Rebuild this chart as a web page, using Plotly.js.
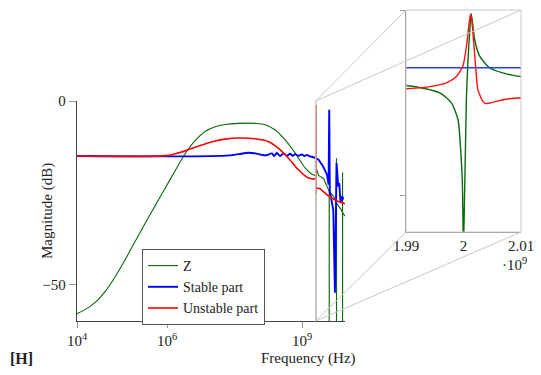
<!DOCTYPE html>
<html>
<head>
<meta charset="utf-8">
<script src="https://cdn.plot.ly/plotly-3.0.1.min.js"></script>
<style>html,body{margin:0;padding:0;background:#fff}</style>
</head>
<body>
<div id="plot" style="width:541px;height:375px"></div>
<script>
// Values (frequency in Hz, magnitude in dB)
let zFreq = [1e4, 1.51e4, 2.51e4, 4.19e4, 6.98e4, 1.17e5, 1.95e5, 3.24e5, 5.41e5, 9.04e5, 1.51e6, 2.51e6, 4.19e6, 6.98e6, 1.17e7, 1.95e7, 3.85e7, 9.04e7, 1.51e8, 2.51e8, 4.19e8, 6.98e8, 1.17e9, 1.64e9,
    1.99e9, 1.99588e9, 1.9979e9, 1.99904e9, 1.99951e9, 1.9998e9, 2.0e9, 2.0005e9, 2.00107e9, 2.00136e9, 2.00193e9, 2.00279e9, 2.00452e9, 2.00682e9, 2.01e9,
    2.3e9, 3.0e9, 3.97e9, 3.98e9, 3.99e9, 5.0e9, 5.76e9, 5.77e9, 5.78e9, 5.79e9, 7.0e9, 7.86e9, 7.87e9, 7.88e9, 7.89e9, 8.9e9];
let zMag = [-58.0, -56.9, -55.0, -52.0, -48.0, -43.3, -38.3, -33.4, -28.6, -23.8, -19.0, -14.4, -10.8, -8.3, -7.0, -6.4, -6.1, -6.1, -6.5, -7.9, -10.6, -14.2, -18.3, -20.0,
    -20.4, -22.4, -25.1, -29.6, -37.8, -46.5, -65, -24.2, -6.1, -1.1, -7.9, -12.4, -15.6, -17.0, -18.0,
    -20.3, -21.2, -24.7, -65, -24.8, -26.0, -27.8, -15.6, -65, -27.9, -29.3, -30.3, -19.5, -65, -30.4, -31.4];

let stableFreq = [1e4, 2.0e7, 3.85e7, 6.4e7, 9.04e7, 1.27e8, 1.64e8, 2.12e8, 2.39e8, 2.74e8, 3.24e8, 3.85e8, 4.57e8, 5.41e8, 6.15e8, 6.98e8, 8.28e8, 9.84e8, 1.11e9, 1.27e9, 1.43e9, 1.64e9,
    1.99e9, 2.0e9, 2.01e9, 2.31e9, 2.9e9, 3.55e9, 3.85e9, 3.98e9, 4.1e9, 4.89e9, 5.33e9, 5.78e9, 6.31e9, 6.64e9, 7.1e9, 7.74e9, 8.15e9];
let stableMag = [-15.0, -14.9, -14.5, -14.1, -14.3, -14.7, -14.8, -14.3, -15.0, -14.2, -15.0, -14.3, -14.95, -14.4, -14.95, -14.5, -14.95, -14.6, -15.0, -14.7, -15.05, -15.2,
    -15.6, -15.6, -15.6, -16.0, -17.8, -20.1, -22.8, -2.4, -24.6, -29.6, -52.3, -16.9, -23.3, -22.4, -27.8, -26.0, -26.9];

let unstableFreq = [1e4, 9.04e5, 1.51e6, 2.51e6, 4.19e6, 6.98e6, 1.17e7, 1.95e7, 3.85e7, 9.04e7, 1.79e8, 2.98e8, 4.97e8, 8.28e8, 1.38e9,
    1.99e9, 1.99415e9, 1.99704e9, 1.99877e9, 1.99991e9, 2.0006e9, 2.00107e9, 2.00129e9, 2.00164e9, 2.0021e9, 2.0025e9, 2.00337e9, 2.00395e9, 2.00568e9, 2.00798e9, 2.01e9,
    2.51e9, 3.5e9, 5.0e9, 6.5e9, 8.9e9];
let unstableMag = [-15.0, -14.9, -14.4, -13.6, -12.6, -11.7, -10.9, -10.4, -10.1, -10.3, -11.1, -12.9, -15.6, -18.8, -21.0,
    -21.3, -20.7, -19.7, -18.0, -15.1, -8.8, -2.4, -1.1, -6.1, -15.1, -21.5, -24.7, -25.3, -24.7, -24.0, -23.7,
    -23.9, -25.5, -26.8, -27.5, -28.0];

let mainTicks = [1e4, 1e6, 1e9];
let mainTickText = ["10<sup>4</sup>", "10<sup>6</sup>", "10<sup>9</sup>"];
let magTicks = [0, -50];
let magTickText = ["0", "\u221250"];
let zoomTicks = [1.99e9, 2.0e9, 2.01e9];
let zoomTickText = ["1.99", "2", "2.01"];

// Layout geometry
const W = 541, H = 375;
const serif = "Liberation Serif, Times New Roman, serif";
const mainDomX = [77 / W, 345 / W];
const mainDomY = [1 - 321 / H, 1 - 101 / H];
const insetDomX = [406 / W, 521 / W];
const insetDomY = [1 - 232 / H, 1 - 10 / H];
const mainRangeX = [4, 9.95];
const zoomRange = [1.99e9, 2.01e9];

function paperX(f) {
    let t = (Math.log10(f) - mainRangeX[0]) / (mainRangeX[1] - mainRangeX[0]);
    return mainDomX[0] + t * (mainDomX[1] - mainDomX[0]);
}

let series = [
    { name: "Z", freq: zFreq, mag: zMag, color: "#0a6a0a", insetColor: "#0a6a0a", width: 1.1 },
    { name: "Stable part", freq: stableFreq, mag: stableMag, color: "#0000ff", insetColor: "#2340ff", width: 1.9 },
    { name: "Unstable part", freq: unstableFreq, mag: unstableMag, color: "#ff0000", insetColor: "#ff1010", width: 1.6 }
];

// main plot: smooth part below the resonance as spline, the spiky tail as straight segments
let data = [];
series.forEach(s => {
    let i = s.freq.findIndex(f => f >= zoomRange[0]);
    data.push({ x: s.freq.slice(0, i + 1), y: s.mag.slice(0, i + 1), name: s.name, legendgroup: s.name,
        mode: "lines", line: { color: s.color, width: s.width, shape: "spline", smoothing: 1 } });
    data.push({ x: s.freq.slice(i), y: s.mag.slice(i), name: s.name, legendgroup: s.name, showlegend: false,
        mode: "lines", line: { color: s.color, width: s.width } });
});
// zoomed inset uses the same series
series.forEach(s => {
    data.push({ x: s.freq, y: s.mag, name: s.name, showlegend: false, xaxis: "x2", yaxis: "y2",
        mode: "lines", line: { color: s.insetColor, width: 1.4, shape: "spline", smoothing: 0.6 } });
});

let spyL = paperX(zoomRange[0]), spyR = paperX(zoomRange[1]);
let spyX = (spyL + spyR) / 2;
let light = { color: "#c8c8c8", width: 1 };

let shapes = [
    { type: "rect", xref: "paper", yref: "paper", x0: spyL, x1: spyR, y0: mainDomY[0], y1: mainDomY[1], line: light },
    { type: "rect", xref: "paper", yref: "paper", x0: insetDomX[0], x1: insetDomX[1], y0: insetDomY[0], y1: insetDomY[1], line: light },
    { type: "line", xref: "paper", yref: "paper", x0: spyX, y0: mainDomY[1], x1: insetDomX[0], y1: insetDomY[1], line: light },
    { type: "line", xref: "paper", yref: "paper", x0: spyX, y0: mainDomY[1], x1: insetDomX[1], y1: insetDomY[1], line: light },
    { type: "line", xref: "paper", yref: "paper", x0: spyX, y0: mainDomY[0], x1: insetDomX[0], y1: insetDomY[0], line: light },
    { type: "line", xref: "paper", yref: "paper", x0: spyX, y0: mainDomY[0], x1: insetDomX[1], y1: insetDomY[0], line: light }
];

let axisBase = {
    showgrid: false, zeroline: false, showline: true, ticks: "outside", ticklen: 6,
    tickcolor: "#999", tickfont: { family: serif, size: 15, color: "#222" }
};

let txt = (text, x, y, extra) => Object.assign({
    text: text, xref: "paper", yref: "paper", x: x / W, y: 1 - y / H,
    xanchor: "center", yanchor: "middle", showarrow: false,
    font: { family: serif, size: 15, color: "#222" }
}, extra || {});

let layout = {
    width: W, height: H,
    margin: { l: 0, r: 0, t: 0, b: 0 },
    paper_bgcolor: "#fff", plot_bgcolor: "rgba(0,0,0,0)",
    font: { family: serif, size: 15, color: "#222" },
    xaxis: Object.assign({}, axisBase, {
        type: "log", range: mainRangeX, domain: mainDomX, anchor: "y",
        tickvals: mainTicks, ticktext: mainTickText, linecolor: "#444", linewidth: 1.3
    }),
    yaxis: Object.assign({}, axisBase, {
        range: [-60, 0], domain: mainDomY, anchor: "x", ticklen: 7,
        tickvals: magTicks, ticktext: magTickText, linecolor: "#444", linewidth: 1.3
    }),
    xaxis2: Object.assign({}, axisBase, {
        range: zoomRange, domain: insetDomX, anchor: "y2", ticks: "",
        tickvals: zoomTicks, ticktext: zoomTickText, linecolor: "#888", linewidth: 1.3
    }),
    yaxis2: Object.assign({}, axisBase, {
        range: [-60, 0], domain: insetDomY, anchor: "x2", ticklen: 5,
        tickvals: magTicks, showticklabels: false, linecolor: "#888", linewidth: 1.3
    }),
    legend: {
        x: 142 / W, y: 1 - 249 / H, xanchor: "left", yanchor: "top", tracegroupgap: 0,
        bgcolor: "#fff", bordercolor: "#555", borderwidth: 1,
        font: { family: serif, size: 14, color: "#222" }, itemwidth: 30
    },
    shapes: shapes,
    annotations: [
        txt("Frequency (Hz)", 308, 358),
        txt("Magnitude (dB)", 47, 211, { textangle: -90 }),
        txt("<b>[H]</b>", 21, 358, { font: { family: serif, size: 16, color: "#222" } }),
        txt("\u00b710<sup>9</sup>", 514, 264)
    ]
};

Plotly.newPlot("plot", data, layout, { displayModeBar: false, staticPlot: true });
</script>
</body>
</html>
